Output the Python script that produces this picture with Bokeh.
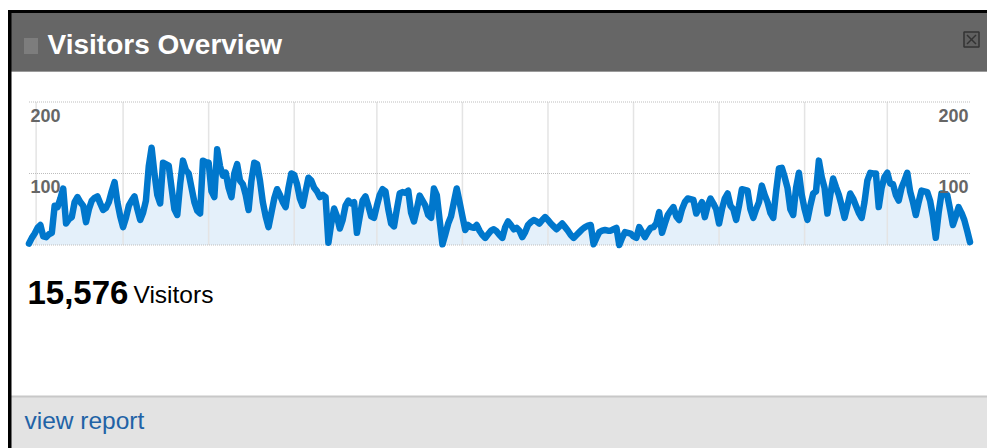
from bokeh.plotting import figure
from bokeh.models import Range1d
from bokeh.core.properties import value
from bokeh.embed import file_html
from bokeh.resources import INLINE

# ---------------- data ----------------
visitors = [
    2, 10, 16, 24, 28, 12, 11, 15, 17, 55, 53, 65, 79, 30, 36, 39, 60, 67, 60, 55,
    32, 50, 62, 66, 68, 58, 49, 52, 60, 75, 88, 60, 40, 25, 38, 55, 62, 68, 50, 35,
    45, 62, 110, 136, 100, 70, 58, 115, 113, 111, 80, 50, 42, 85, 118, 105, 100, 80, 60, 48,
    44, 118, 116, 115, 75, 67, 134, 110, 97, 101, 80, 67, 100, 113, 90, 85, 70, 49, 90, 115,
    113, 90, 60, 40, 25, 45, 65, 78, 70, 60, 53, 80, 100, 98, 85, 65, 55, 75, 94, 90,
    80, 75, 67, 70, 67, 3, 30, 51, 40, 23, 35, 55, 62, 58, 60, 17, 40, 62, 68, 55,
    40, 38, 55, 70, 78, 75, 50, 30, 26, 50, 72, 74, 73, 76, 45, 33, 50, 69, 62, 55,
    42, 38, 79, 70, 35, 1, 15, 30, 40, 60, 79, 60, 40, 21, 28, 25, 24, 28, 20, 14,
    10, 15, 20, 22, 19, 14, 10, 25, 33, 28, 22, 24, 20, 11, 18, 28, 32, 35, 33, 30,
    35, 39, 35, 30, 26, 22, 26, 30, 25, 20, 14, 10, 14, 18, 22, 25, 27, 28, 1, 10,
    18, 20, 21, 20, 20, 22, 24, 0, 10, 18, 17, 16, 12, 10, 25, 18, 11, 18, 24, 25,
    30, 46, 17, 30, 42, 48, 53, 40, 35, 50, 60, 65, 64, 63, 44, 52, 60, 39, 55, 65,
    58, 50, 30, 50, 65, 72, 55, 50, 35, 55, 78, 77, 76, 50, 38, 50, 60, 83, 70, 60,
    45, 38, 75, 107, 108, 95, 80, 50, 42, 80, 101, 70, 50, 35, 55, 72, 75, 118, 95, 80,
    44, 70, 93, 81, 70, 55, 38, 55, 72, 65, 55, 45, 38, 60, 90, 101, 100, 100, 53, 80,
    95, 101, 86, 85, 70, 62, 80, 90, 101, 75, 60, 42, 60, 76, 75, 74, 62, 40, 10, 45,
    72, 71, 70, 50, 28, 40, 53, 45, 35, 20, 4,
]
days = list(range(len(visitors)))
month_starts = [2.5, 33, 63, 93, 122, 152, 182, 212, 242, 272, 301]
grid_levels = [0, 100, 200]
tick_values = [200, 100]
tick_labels = ["200", "100"]
total_visitors = "15,576"
metric_name = "Visitors"
panel_title = "Visitors Overview"
link_text = "view report"

FONT = value("Liberation Sans")

# ---------------- canvas (coordinates = picture pixels) ----------------
W, H = 987, 448
p = figure(width=W, height=H, output_backend="svg", toolbar_location=None,
           x_range=Range1d(0, W), y_range=Range1d(H, 0),
           x_axis_type=None, y_axis_type=None, min_border=0)
p.outline_line_color = None
p.background_fill_color = "white"
p.border_fill_color = "white"
p.xgrid.visible = False
p.ygrid.visible = False

# chart ranges (pixel position of first/last day and of 0 / 200)
n = len(visitors)
X0, X1 = 28.5, 969.5
Y0, Y200 = 244.5, 101.5
kx = (n - 1) / (X1 - X0)
ky = 200 / (Y0 - Y200)
p.extra_x_ranges = {"c": Range1d(-X0 * kx, (n - 1) + (W - X1) * kx)}
p.extra_y_ranges = {"c": Range1d(-(H - Y0) * ky, Y0 * ky)}
C = dict(x_range_name="c", y_range_name="c")

# ---------------- panel chrome ----------------
p.quad(left=[7.5], right=[W], top=[12.5], bottom=[70.5], fill_color="#666666", line_color=None)
p.quad(left=[7.5], right=[W], top=[70.5], bottom=[71.5], fill_color="#9a9a9a", line_color=None)
p.quad(left=[7.5], right=[W], top=[9.5], bottom=[12.5], fill_color="#000000", line_color=None)
p.quad(left=[7.5], right=[W], top=[396.5], bottom=[H], fill_color="#e3e3e3", line_color=None)
p.quad(left=[7.5], right=[W], top=[395.0], bottom=[397.0], fill_color="#c8c8c8", line_color=None)
p.quad(left=[7.5], right=[11], top=[9.5], bottom=[H], fill_color="#000000", line_color=None)

# grip icon
gx, gy = [], []
for i in range(7):
    for j in range(8):
        gx.append(24.5 + 2 * i)
        gy.append(38.5 + 2 * j)
p.rect(x=gx, y=gy, width=1, height=1, fill_color="#c4c4c4", line_color=None)

# close icon
p.quad(left=[963.5], right=[978.5], top=[31.5], bottom=[46.5], fill_color="#606060",
       line_color="#333333", line_width=1.5)
p.segment(x0=[966.5, 966.5], y0=[34.5, 43.5], x1=[975.5, 975.5], y1=[43.5, 34.5],
          line_color="#333333", line_width=1.5)

# ---------------- chart ----------------
p.varea(x=days, y1=[0] * n, y2=visitors, fill_color="#e4f0fa", **C)
p.segment(x0=month_starts, x1=month_starts, y0=[0] * len(month_starts),
          y1=[200] * len(month_starts), line_color="#e4e4e4", line_width=1.5, **C)
p.segment(x0=[0] * len(grid_levels), x1=[n - 1] * len(grid_levels), y0=grid_levels, y1=grid_levels,
          line_color="#bdbdbd", line_width=1.2, line_dash="1 1", **C)
p.line(x=days, y=visitors, line_color="#0077cc", line_width=6.5,
       line_join="round", line_cap="round", **C)

p.text(x=[0] * len(tick_values), y=tick_values, text=tick_labels, x_offset=1.5, y_offset=13,
       text_align="left", text_baseline="middle", text_font=FONT,
       text_font_style="bold", text_font_size="18px", text_color="#666666", **C)
p.text(x=[n - 1] * len(tick_values), y=tick_values, text=tick_labels, x_offset=-1.5, y_offset=13,
       text_align="right", text_baseline="middle", text_font=FONT,
       text_font_style="bold", text_font_size="18px", text_color="#666666", **C)

# ---------------- texts (y = visual middle of the capitals) ----------------
p.text(x=[47], y=[43.5], text=[panel_title], text_font=FONT, text_font_style="bold",
       text_font_size="28px", text_color="white", text_baseline="middle")
p.text(x=[27], y=[291.5], text=[total_visitors], text_font=FONT, text_font_style="bold",
       text_font_size="33px", text_color="#000000", text_baseline="middle")
p.text(x=[133], y=[294], text=[metric_name], text_font=FONT,
       text_font_size="24.5px", text_color="#000000", text_baseline="middle")
p.text(x=[24], y=[420], text=[link_text], text_font=FONT,
       text_font_size="24.5px", text_color="#2162a6", text_baseline="middle")

open("out.html", "w").write(file_html(p, INLINE))
